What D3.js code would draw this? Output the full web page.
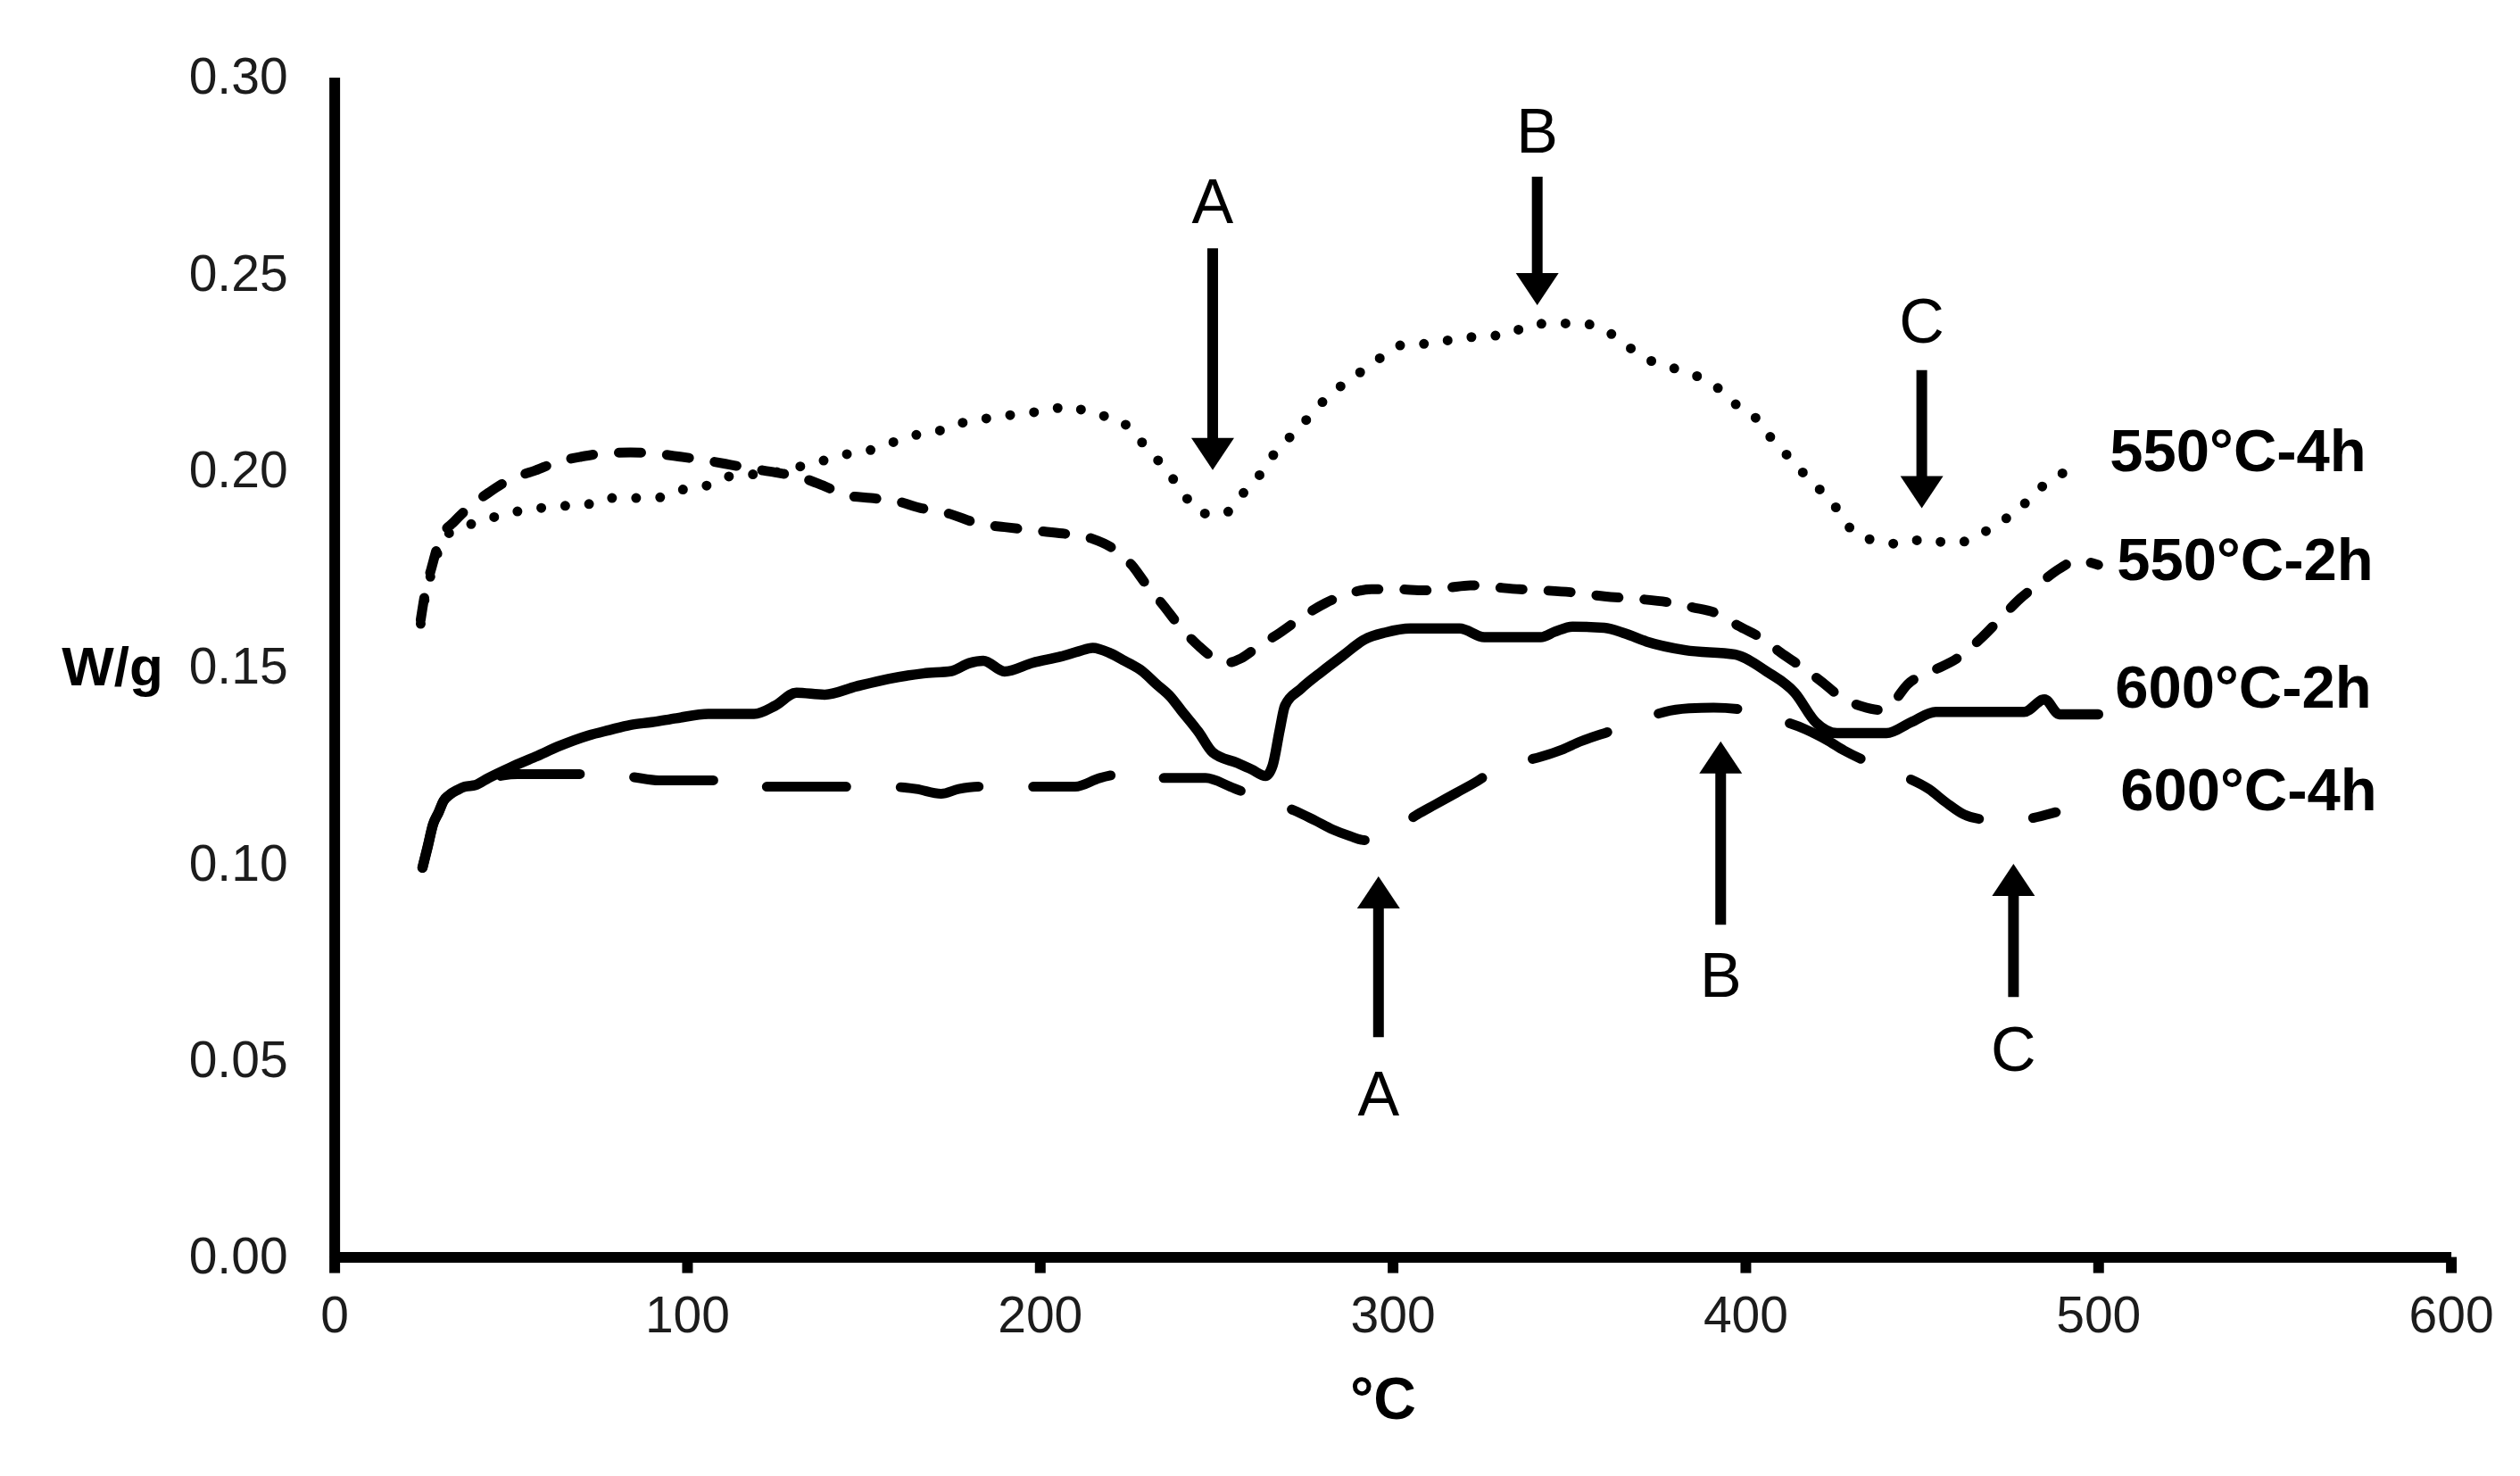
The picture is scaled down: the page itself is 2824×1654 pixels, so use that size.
<!DOCTYPE html>
<html>
<head>
<meta charset="utf-8">
<script src="https://cdn.jsdelivr.net/npm/d3@7"></script>
<style>
  body { margin: 0; background: #fff; }
  svg { display: block; font-family: "Liberation Sans", Arial, sans-serif; }
</style>
</head>
<body>
<div id="chart"></div>
<script>
// Heat flow (W/g) against temperature (ºC)
const curve550_4h = [
  [24.5,0.161],[26,0.169],[28,0.175],[30.5,0.182],[35,0.1853],[42,0.187],[48,0.189],[56,0.190],
  [63,0.191],[70,0.191],[77,0.193],[84,0.193],[91,0.193],[98,0.195],[105,0.196],[112,0.1985],
  [125,0.1995],[132,0.201],[139,0.2026],[146,0.2043],[153,0.2054],[160,0.2077],[167,0.2095],
  [174,0.2106],[180,0.2127],[188,0.2135],[195,0.2146],[202,0.2151],[208,0.2164],[215,0.2143],
  [222,0.2132],[227,0.209],[232,0.2041],[237,0.1988],[241,0.1937],[246,0.1891],[252,0.1889],
  [257,0.1936],[262,0.1985],[266,0.2037],[271,0.2086],[276,0.2133],[281,0.2182],[286,0.2219],
  [292,0.2257],[298,0.2295],[304,0.2322],[311,0.2322],[318,0.2336],[326,0.2341],[333,0.2347],
  [339,0.2371],[346,0.2374],[353,0.2374],[360,0.2358],[366,0.232],[372,0.2284],[379,0.2262],
  [386,0.2241],[392,0.2211],[397,0.217],[403,0.2133],[407,0.2086],[412,0.2037],[417,0.1988],
  [422,0.1943],[427,0.1891],[431,0.184],[438,0.182],[444,0.1813],[451,0.1826],[458,0.1815],
  [465,0.1828],[471,0.1864],[477,0.1896],[482,0.1943],[488,0.1983],[494,0.201]
];
const curve550_2h = [
  [24.5,0.162],[26,0.170],[27.5,0.175],[30,0.1826],[34,0.187],[38,0.1905],[44,0.1945],[50,0.1978],
  [57,0.200],[63,0.2021],[70,0.2035],[76,0.2043],[84,0.2046],[91,0.2043],[98,0.2035],[105,0.2026],
  [112,0.2015],[118,0.2005],[125,0.1995],[132,0.1983],[139,0.196],[145,0.1937],[152,0.193],
  [159,0.1923],[166,0.1905],[174,0.1891],[183,0.1864],[190,0.1856],[201,0.1845],[208,0.1838],
  [215,0.1826],[221,0.180],[226,0.176],[230,0.1712],[235,0.1657],[240,0.160],[245,0.1554],
  [249,0.1525],[253,0.1511],[257,0.1522],[262,0.1553],[268,0.1587],[274,0.1625],[281,0.1663],
  [287,0.1685],[294,0.1698],[301,0.1698],[309,0.1695],[316,0.1702],[322,0.1708],[329,0.1703],
  [336,0.1698],[343,0.1695],[351,0.169],[360,0.168],[370,0.1673],[378,0.1665],[385,0.1652],
  [392,0.1636],[398,0.1605],[405,0.1571],[410,0.1537],[416,0.150],[422,0.146],[427,0.1424],
  [433,0.140],[438,0.1391],[442,0.1412],[446,0.1456],[453,0.149],[460,0.1522],[467,0.1575],
  [473,0.163],[478,0.1675],[484,0.1717],[489,0.175],[494,0.1771],[500,0.176]
];
const curve600_2h = [
  [25,0.099],[26.5,0.1044],[28,0.110],[29.6,0.1131],[31,0.116],[32.5,0.1174],[35,0.1188],[37,0.1196],
  [40,0.120],[43.7,0.1218],[50,0.1245],[57,0.1272],[64,0.130],[72,0.1326],[78,0.134],[84,0.1353],
  [90,0.136],[97,0.137],[106,0.1381],[113,0.1381],[119,0.1381],[125,0.1402],[131,0.1435],[139,0.143],
  [148,0.1451],[157,0.147],[167,0.1484],[175,0.149],[180,0.151],[184,0.1516],[190,0.1489],[198,0.1511],
  [206,0.1527],[211,0.154],[215,0.1549],[220,0.1535],[224,0.1516],[229,0.149],[233,0.1457],[237,0.1425],
  [240,0.1391],[245,0.1335],[249,0.1283],[256,0.1256],[260,0.124],[264,0.1223],[266,0.125],[268,0.134],
  [269.5,0.1402],[274,0.1445],[280,0.1489],[286,0.153],[292,0.157],[298,0.1588],[305,0.1598],
  [312,0.1598],[319,0.1598],[326,0.1576],[334,0.1576],[342,0.1576],[346,0.159],[351,0.1603],
  [360,0.160],[366,0.1585],[372,0.1565],[383,0.1543],[397,0.1532],[406,0.1489],[414,0.1435],
  [420,0.1359],[426,0.1332],[440,0.1332],[447,0.136],[454,0.1386],[466,0.1386],[479,0.1386],
  [484.8,0.1418],[489,0.138],[500,0.138]
];
const curve600_4h = [
  [25,0.099],[26.5,0.1044],[28,0.110],[29.6,0.1131],[31,0.116],[32.5,0.1174],[35,0.1188],[37,0.1196],
  [40,0.120],[44,0.1215],[48,0.1225],[52,0.1228],[60,0.1228],[70,0.1228],[79,0.1228],[85,0.122],
  [92,0.1212],[100,0.1212],[108,0.1212],[113,0.1198],[116,0.1196],[124,0.1196],[131,0.1196],
  [145,0.1196],[157,0.1196],[165,0.119],[172,0.1178],[177,0.119],[183,0.1196],[195,0.1196],
  [210,0.1196],[217,0.1218],[222,0.1228],[227,0.1234],[233,0.1218],[240,0.1218],[247,0.1218],
  [254,0.1196],[260,0.1174],[266,0.1155],[272,0.1136],[278,0.111],[283,0.1087],[288,0.107],
  [292,0.106],[296,0.1066],[301,0.109],[307,0.1125],[312,0.115],[318,0.118],[324,0.121],[329,0.1239],
  [335,0.1256],[342,0.1272],[348,0.129],[353,0.131],[361,0.1335],[369,0.136],[377,0.1386],
  [384,0.1395],[391,0.1397],[400,0.1391],[408,0.137],[417,0.1342],[423,0.1315],[428,0.1288],
  [437,0.125],[445,0.1222],[452,0.119],[457,0.1155],[462,0.1125],[468,0.1112],[474,0.1109],
  [480,0.1114],[488,0.1131]
];
const seriesNames = ['550°C-4h', '550°C-2h', '600°C-2h', '600°C-4h'];
const xTicks = [0, 100, 200, 300, 400, 500, 600];
const yTicks = [0, 0.05, 0.10, 0.15, 0.20, 0.25, 0.30];
const peakLabels = ['A', 'B', 'C', 'A', 'B', 'C'];
const peakTemps = [249, 341, 450, 296, 393, 476];

class DscChart {
  constructor(_config, data) {
    this.config = {
      parentElement: _config.parentElement,
      containerWidth: 2824,
      containerHeight: 1654,
      margin: { top: 86.5, right: 77.4, bottom: 245.4, left: 374.6 },
      axisWidth: 12,
      tickFont: 57,
      // line look for each series, in seriesNames order
      lineStyles: [
        { width: 11, dash: '0 27' },
        { width: 11, dash: '25 29' },
        { width: 11.5, dash: null },
        { width: 11, dash: '89 61' }
      ],
      // where the series names sit (data units, text baseline)
      labelPos: [[503.3, 0.1999], [505.3, 0.1721], [504.8, 0.1396], [506.3, 0.1136]],
      // arrows: text baseline, tail and tip (data units)
      arrows: [
        { text: 0.2629, from: 0.2565, to: 0.2001 },
        { text: 0.2808, from: 0.2747, to: 0.2420 },
        { text: 0.2325, from: 0.2255, to: 0.1904 },
        { text: 0.0360, from: 0.0559, to: 0.0968 },
        { text: 0.0662, from: 0.0845, to: 0.1311 },
        { text: 0.0473, from: 0.0661, to: 0.1000 }
      ]
    };
    this.data = data;
    this.initVis();
  }

  initVis() {
    let vis = this;
    const c = vis.config;

    c.width = c.containerWidth - c.margin.left - c.margin.right;
    c.height = c.containerHeight - c.margin.top - c.margin.bottom;

    vis.svg = d3.select(c.parentElement)
      .append('svg')
      .attr('width', c.containerWidth)
      .attr('height', c.containerHeight);

    vis.svg.append('rect')
      .attr('width', c.containerWidth)
      .attr('height', c.containerHeight)
      .attr('fill', '#fff');

    vis.chartArea = vis.svg.append('g')
      .attr('transform', `translate(${c.margin.left},${c.margin.top})`);

    vis.xScale = d3.scaleLinear().domain([0, 600]).range([0, c.width]);
    vis.yScale = d3.scaleLinear().domain([0, 0.30]).range([c.height, 0]);

    vis.xAxis = d3.axisBottom(vis.xScale)
      .tickValues(xTicks)
      .tickSize(18)
      .tickSizeOuter(0)
      .tickPadding(26)
      .tickFormat(d3.format('d'));

    vis.yAxis = d3.axisLeft(vis.yScale)
      .tickValues(yTicks)
      .tickSize(0)
      .tickSizeOuter(0)
      .tickPadding(52)
      .tickFormat(d3.format('.2f'));

    vis.renderVis();
  }

  renderVis() {
    let vis = this;
    const c = vis.config;

    // Curves
    const line = d3.line()
      .x(d => vis.xScale(d[0]))
      .y(d => vis.yScale(d[1]))
      .curve(d3.curveMonotoneX);

    vis.chartArea.selectAll('.curve')
      .data(vis.data)
      .join('path')
      .attr('class', 'curve')
      .attr('d', d => line(d.values))
      .attr('fill', 'none')
      .attr('stroke', '#000')
      .attr('stroke-width', (d, i) => c.lineStyles[i].width)
      .attr('stroke-dasharray', (d, i) => c.lineStyles[i].dash)
      .attr('stroke-linecap', 'round')
      .attr('stroke-linejoin', 'round');

    // Series names at the line ends
    vis.chartArea.selectAll('.series-label')
      .data(vis.data)
      .join('text')
      .attr('class', 'series-label')
      .attr('x', (d, i) => vis.xScale(c.labelPos[i][0]))
      .attr('y', (d, i) => vis.yScale(c.labelPos[i][1]))
      .attr('font-size', 67)
      .attr('font-weight', 'bold')
      .attr('fill', '#000')
      .text(d => d.name);

    // Axes
    const gx = vis.chartArea.append('g')
      .attr('transform', `translate(0,${c.height})`)
      .call(vis.xAxis);
    gx.select('.domain').attr('stroke-width', c.axisWidth);
    gx.selectAll('.tick line').attr('stroke-width', c.axisWidth);
    gx.selectAll('.tick text').attr('font-size', c.tickFont).attr('fill', '#1c1c1c');

    const gy = vis.chartArea.append('g').call(vis.yAxis);
    gy.select('.domain').attr('stroke-width', c.axisWidth);
    gy.selectAll('.tick line').remove();
    gy.selectAll('.tick text').attr('font-size', c.tickFont).attr('fill', '#1c1c1c');
    gx.raise();

    // Axis titles
    vis.svg.append('text')
      .attr('x', 126)
      .attr('y', 768)
      .attr('text-anchor', 'middle')
      .attr('font-size', 62)
      .attr('font-weight', 'bold')
      .text('W/g');

    vis.svg.append('text')
      .attr('x', 1550)
      .attr('y', 1590)
      .attr('text-anchor', 'middle')
      .attr('font-size', 66)
      .attr('font-weight', 'bold')
      .text('°C');

    // Peak arrows A, B, C
    const peaks = peakLabels.map((label, i) => ({ label, x: peakTemps[i], ...c.arrows[i] }));
    const headH = 36, headW = 24;

    const marks = vis.chartArea.selectAll('.peak')
      .data(peaks)
      .join('g')
      .attr('class', 'peak');

    marks.append('text')
      .attr('x', d => vis.xScale(d.x))
      .attr('y', d => vis.yScale(d.text))
      .attr('text-anchor', 'middle')
      .attr('font-size', 70)
      .attr('fill', '#000')
      .text(d => d.label);

    marks.append('line')
      .attr('x1', d => vis.xScale(d.x))
      .attr('x2', d => vis.xScale(d.x))
      .attr('y1', d => vis.yScale(d.from))
      .attr('y2', d => {
        const tip = vis.yScale(d.to);
        return tip + (vis.yScale(d.from) < tip ? -headH + 2 : headH - 2);
      })
      .attr('stroke', '#000')
      .attr('stroke-width', 12);

    marks.append('path')
      .attr('fill', '#000')
      .attr('d', d => {
        const x = vis.xScale(d.x);
        const tip = vis.yScale(d.to);
        const base = tip + (vis.yScale(d.from) < tip ? -headH : headH);
        return `M${x},${tip}L${x - headW},${base}L${x + headW},${base}Z`;
      });
  }
}

const seriesData = [curve550_4h, curve550_2h, curve600_2h, curve600_4h]
  .map((values, i) => ({ name: seriesNames[i], values }));

new DscChart({ parentElement: '#chart' }, seriesData);
</script>
</body>
</html>
